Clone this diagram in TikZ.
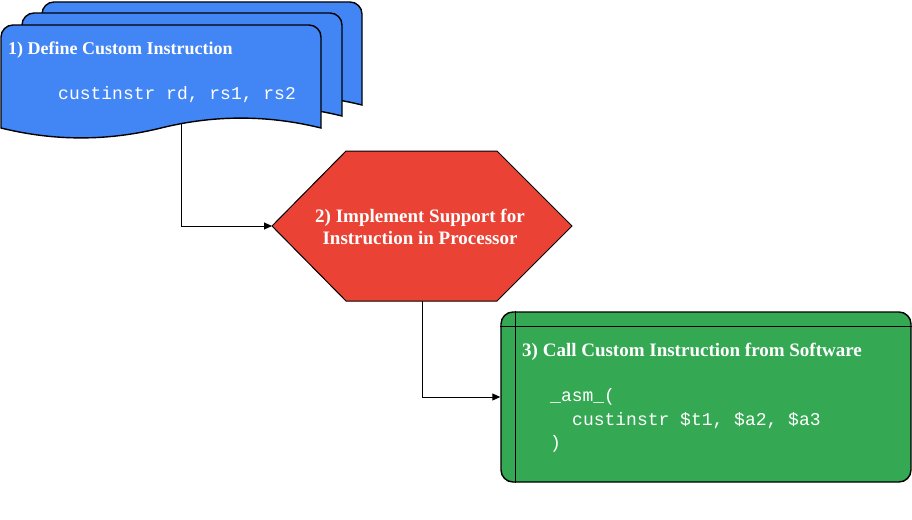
\documentclass[tikz,border=0pt]{standalone}
\usepackage{fontspec}
\setmainfont{Liberation Serif}
\setmonofont{Liberation Mono}
\usetikzlibrary{arrows.meta}
\definecolor{dblue}{HTML}{4285F4}
\definecolor{dred}{HTML}{EA4335}
\definecolor{dgreen}{HTML}{34A853}
\begin{document}
\begin{tikzpicture}[x=1pt,y=-1pt,
  outl/.style={draw=black,line width=1.4pt},
  ttl/.style={font=\fontsize{18}{22}\selectfont\bfseries, text=white, inner sep=0pt},
  ttlb/.style={font=\fontsize{19}{22}\selectfont\bfseries, text=white, inner sep=0pt},
  code/.style={font=\fontsize{18}{22}\selectfont\ttfamily, text=white, inner sep=0pt},
  conn/.style={draw=black,line width=0.9pt,-{Triangle[length=8pt,width=7pt]}}]
\useasboundingbox (0,0) rectangle (912,519);
% stacked documents
\foreach \sx/\sy in {42/2, 22/13, 1/25} {
  \begin{scope}[shift={(\sx,\sy)}]
    \path[outl, fill=dblue] (0,50) [rounded corners=12pt] -- (0,0) -- (320,0) -- (320,50) [sharp corners] -- (320,103)
      .. controls (266.67,89.8) and (213.33,89.8) .. (160,103)
      .. controls (106.67,116.2) and (53.33,116.2) .. (0,103) -- cycle;
  \end{scope}
}
\node[ttl, anchor=west] (d1t) at (8,50) {1) Define Custom Instruction};
\node[code, anchor=west] (d1c) at (58,95) {custinstr rd, rs1, rs2};
\coordinate (d1out) at (181,123);
% hexagon
\path[draw=black, line width=1pt, fill=dred] (272,226) -- (346,151) -- (497,151) -- (572,226) -- (497,301) -- (346,301) -- cycle;
\coordinate (hexL) at (272,226);
\coordinate (hexB) at (422,301);
\node[ttlb, align=center] (hex) at (420,227) {2) Implement Support for\\Instruction in Processor};
% green box
\node[outl, fill=dgreen, rounded corners=12pt, minimum width=410pt, minimum height=170pt, inner sep=0pt] (box) at (706,397) {};
\draw[line width=1.4pt] ([xshift=15pt]box.north west) -- ([xshift=15pt]box.south west);
\draw[line width=1.4pt] ([yshift=-15pt]box.north west) -- ([yshift=-15pt]box.north east);
\node[ttlb, anchor=west] (b3t) at (522,352) {3) Call Custom Instruction from Software};
\node[code, anchor=west] (b3a) at (550,397) {\_asm\_(};
\node[code, anchor=west] (b3b) at (572,421) {custinstr \$t1, \$a2, \$a3};
\node[code, anchor=west] (b3c) at (550,444) {)};
% connectors
\draw[conn] (d1out) |- (hexL);
\draw[conn] (hexB) |- (box.west);
\end{tikzpicture}
\end{document}
